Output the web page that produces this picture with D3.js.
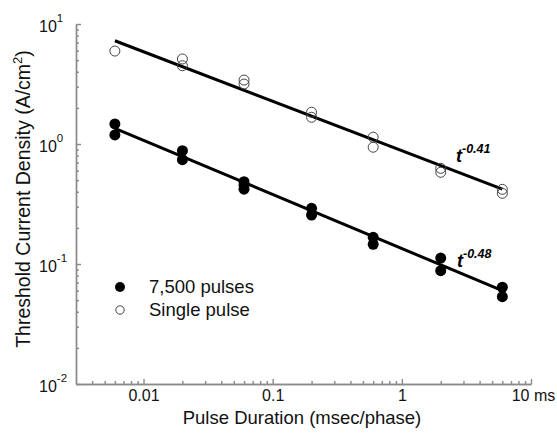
<!DOCTYPE html>
<html>
<head>
<meta charset="utf-8">
<script src="https://cdn.jsdelivr.net/npm/d3@7.9.0/dist/d3.min.js"></script>
<style>
  body { margin: 0; background: #fff; }
  svg { display: block; font-family: "Liberation Sans", Arial, sans-serif; }
</style>
</head>
<body>
<svg id="chart" width="557" height="436"></svg>
<script>
// data: [duration ms, threshold A/cm^2]
const pulses7500 = [
  [0.006, 1.47], [0.006, 1.19],
  [0.02, 0.88], [0.02, 0.74],
  [0.06, 0.485], [0.06, 0.453], [0.06, 0.42],
  [0.2, 0.291], [0.2, 0.256],
  [0.6, 0.167], [0.6, 0.146],
  [2, 0.112], [2, 0.088],
  [6, 0.064], [6, 0.0534]
];
const singlePulse = [
  [0.006, 5.95],
  [0.02, 5.11], [0.02, 4.49],
  [0.06, 3.41], [0.06, 3.16],
  [0.2, 1.84], [0.2, 1.67],
  [0.6, 1.14], [0.6, 0.94],
  [2, 0.627], [2, 0.581],
  [6, 0.419], [6, 0.388]
];
// fitted power-law lines (end points)
const fit7500 = [[0.006, 1.35], [6, 0.06]];
const fitSingle = [[0.006, 7.25], [6, 0.42]];

const xMajor = [0.01, 0.1, 1, 10];
const xTickLabels = ['0.01', '0.1', '1', '10 ms'];
const yMajor = [0.01, 0.1, 1, 10];
const yExponents = ['-2', '-1', '0', '1'];
const seriesNames = ['7,500 pulses', 'Single pulse'];
const slopeLabels = ['-0.48', '-0.41'];

const svg = d3.select('#chart');
const axisColor = '#8a8a8a';

const x = d3.scaleLog().domain([0.003, 10]).range([76, 531]);
const y = d3.scaleLog().domain([0.01, 10]).range([384, 24]);

// minor ticks 2..9 per decade
function minorTicks(lo, hi) {
  const out = [];
  for (let d = Math.floor(Math.log10(lo)); d < Math.log10(hi); d++) {
    for (let k = 2; k <= 9; k++) {
      const v = k * Math.pow(10, d);
      if (v > lo && v < hi) out.push(v);
    }
  }
  return out;
}

// x axis
svg.append('g')
  .attr('transform', 'translate(0,384)')
  .call(d3.axisBottom(x).tickValues(minorTicks(0.003, 10)).tickSize(-3).tickSizeOuter(0).tickFormat(''))
  .call(g => g.selectAll('line,path').attr('stroke', axisColor).attr('stroke-width', 1.4));
const xg = svg.append('g')
  .attr('transform', 'translate(0,384)')
  .call(d3.axisBottom(x).tickValues(xMajor).tickSize(-5).tickSizeOuter(0)
    .tickFormat((d, i) => xTickLabels[i]))
  .call(g => g.selectAll('line,path').attr('stroke', axisColor).attr('stroke-width', 1.4));
xg.selectAll('text')
  .attr('font-family', '"Liberation Sans", Arial, sans-serif')
  .attr('font-size', 16).attr('fill', '#111')
  .attr('dy', null).attr('y', 17)
  .attr('dx', (d, i) => i === 3 ? 2 : 0);

// y axis
svg.append('g')
  .attr('transform', 'translate(76,0)')
  .call(d3.axisLeft(y).tickValues(minorTicks(0.01, 10)).tickSize(-3).tickSizeOuter(0).tickFormat(''))
  .call(g => g.selectAll('line,path').attr('stroke', axisColor).attr('stroke-width', 1.4));
svg.append('g')
  .attr('transform', 'translate(76,0)')
  .call(d3.axisLeft(y).tickValues(yMajor).tickSize(-5).tickSizeOuter(0).tickFormat(''))
  .call(g => g.selectAll('line,path').attr('stroke', axisColor).attr('stroke-width', 1.4));

const yLab = svg.append('g').selectAll('text')
  .data(yMajor)
  .join('text')
  .attr('x', 39)
  .attr('y', d => y(d) + 8)
  .attr('font-size', 16)
  .attr('fill', '#111');
yLab.append('tspan').text('10');
yLab.append('tspan')
  .attr('dy', -10)
  .attr('font-size', 11.5)
  .text((d, i) => yExponents[i]);

// axis titles
svg.append('text')
  .attr('x', 302).attr('y', 424)
  .attr('text-anchor', 'middle')
  .attr('font-size', 18.5).attr('fill', '#111')
  .text('Pulse Duration (msec/phase)');

const yTitle = svg.append('text')
  .attr('transform', 'translate(30,199) rotate(-90)')
  .attr('text-anchor', 'middle')
  .attr('font-size', 19.5).attr('fill', '#111');
yTitle.append('tspan').text('Threshold Current Density (A/cm');
yTitle.append('tspan').attr('dy', -8).attr('font-size', 13).text('2');
yTitle.append('tspan').attr('dy', 8).text(')');

// fit lines
const line = d3.line().x(d => x(d[0])).y(d => y(d[1]));
[fitSingle, fit7500].forEach(f => {
  svg.append('path')
    .datum(f)
    .attr('d', line)
    .attr('fill', 'none')
    .attr('stroke', '#000')
    .attr('stroke-width', 3);
});

// points
svg.append('g').selectAll('circle')
  .data(singlePulse)
  .join('circle')
  .attr('cx', d => x(d[0]))
  .attr('cy', d => y(d[1]))
  .attr('r', 5)
  .attr('fill', 'none')
  .attr('stroke', '#444')
  .attr('stroke-width', 1);

svg.append('g').selectAll('circle')
  .data(pulses7500)
  .join('circle')
  .attr('cx', d => x(d[0]))
  .attr('cy', d => y(d[1]))
  .attr('r', 5.5)
  .attr('fill', '#000');

// slope labels
const slopePos = [[457, 267], [456, 162]];
slopePos.forEach((p, i) => {
  const t = svg.append('text')
    .attr('x', p[0]).attr('y', p[1])
    .attr('font-style', 'italic').attr('font-weight', 'bold')
    .attr('font-size', 18).attr('fill', '#000');
  t.append('tspan').text('t');
  t.append('tspan').attr('dy', -9).attr('font-size', 12.5).text(slopeLabels[i]);
});

// legend
const legend = svg.append('g');
legend.append('circle').attr('cx', 120).attr('cy', 287).attr('r', 5).attr('fill', '#000');
legend.append('circle').attr('cx', 120).attr('cy', 310).attr('r', 4.2)
  .attr('fill', 'none').attr('stroke', '#444').attr('stroke-width', 1);
legend.selectAll('text')
  .data(seriesNames)
  .join('text')
  .attr('x', 149)
  .attr('y', (d, i) => 293 + i * 23)
  .attr('font-size', 18.5)
  .attr('fill', '#111')
  .text(d => d);
</script>
</body>
</html>
